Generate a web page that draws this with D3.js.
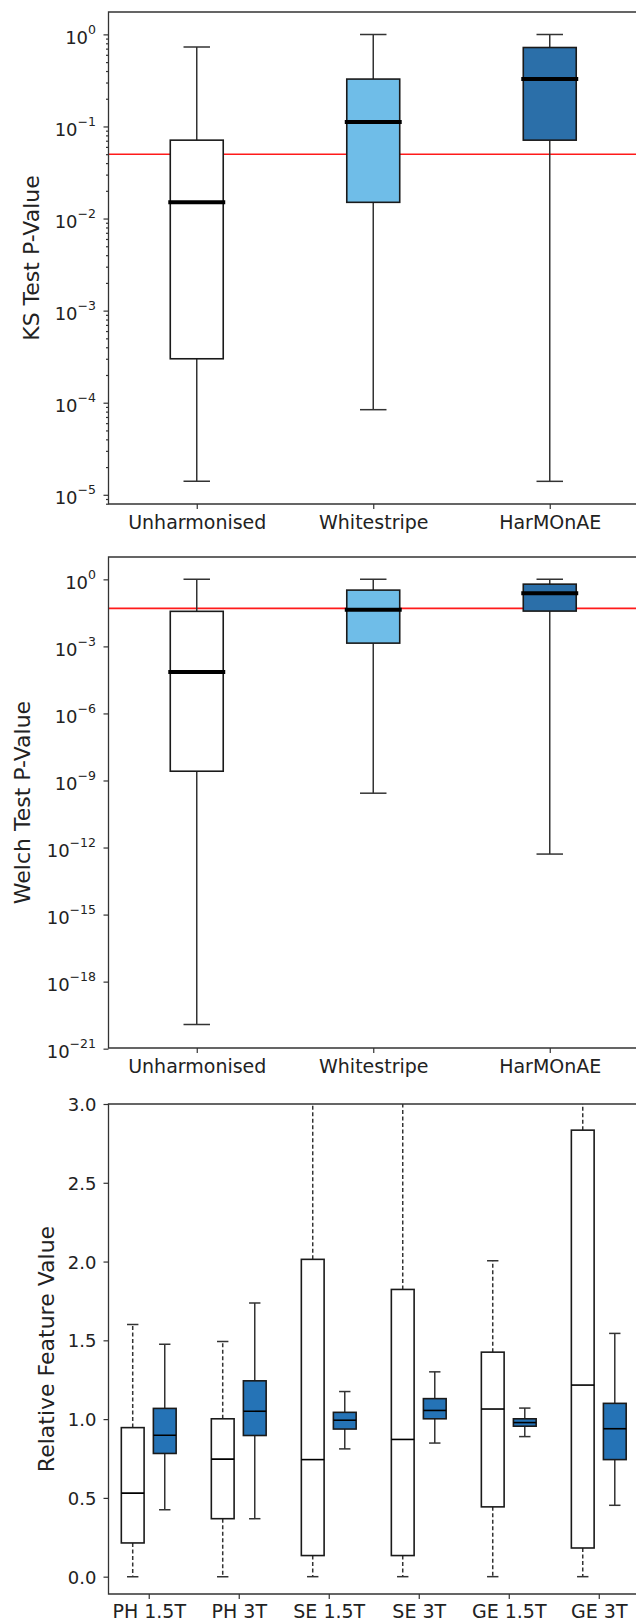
<!DOCTYPE html>
<html>
<head>
<meta charset="utf-8">
<script src="https://cdnjs.cloudflare.com/ajax/libs/d3/7.8.5/d3.min.js"></script>
<style>
    body { margin: 0; background: #fff; }
    svg { display: block; font-family: "DejaVu Sans", sans-serif; }
</style>
</head>
<body>
<div id="chart"></div>
<script>
// box stats are [whisker low, q1, median, q3, whisker high]
const methods = ['Unharmonised', 'Whitestripe', 'HarMOnAE'];

const ksStats = [
    [1.4e-5, 3.0e-4, 1.5e-2, 7.1e-2, 0.73],
    [8.4e-5, 1.5e-2, 0.112, 0.327, 1.0],
    [1.4e-5, 7.1e-2, 0.327, 0.72, 1.0]
];

const welchStats = [
    [1.2e-20, 2.6e-9, 7.2e-5, 0.037, 1.0],
    [2.7e-10, 1.4e-3, 4.4e-2, 0.33, 1.0],
    [5.1e-13, 3.8e-2, 0.24, 0.61, 1.0]
];

const features = ['PH 1.5T', 'PH 3T', 'SE 1.5T', 'SE 3T', 'GE 1.5T', 'GE 3T'];

const unharmStats = [
    [0.0, 0.214, 0.53, 0.946, 1.60],
    [0.0, 0.368, 0.746, 1.002, 1.493],
    [0.0, 0.134, 0.743, 2.014, 3.6],
    [0.0, 0.134, 0.871, 1.823, 3.6],
    [0.0, 0.443, 1.064, 1.425, 2.005],
    [0.0, 0.182, 1.216, 2.834, 3.6]
];

const harmStats = [
    [0.425, 0.782, 0.898, 1.068, 1.475],
    [0.368, 0.896, 1.05, 1.243, 1.737],
    [0.811, 0.937, 0.993, 1.043, 1.175],
    [0.848, 1.002, 1.055, 1.13, 1.30],
    [0.889, 0.955, 0.978, 1.002, 1.07],
    [0.453, 0.743, 0.939, 1.10, 1.544]
];

const ksTicks = [0, -1, -2, -3, -4, -5];
const welchTicks = [0, -3, -6, -9, -12, -15, -18, -21];
const featureTicks = [0, 0.5, 1.0, 1.5, 2.0, 2.5, 3.0];
const pThreshold = 0.05;

const methodColors = ['#ffffff', '#6fbde8', '#2b6fa9'];
const harmColor = '#2573b6';

const size = { width: 636, height: 1622 };
const left = 108.5;
const right = 638;

const svg = d3.select('#chart')
    .append('svg')
    .attr('width', size.width)
    .attr('height', size.height);

svg.append('rect')
    .attr('width', size.width)
    .attr('height', size.height)
    .attr('fill', '#fff');

const drawFrame = (top, bottom) => {
    svg.append('path')
        .attr('d', `M${right},${top}H${left}V${bottom}H${right}`)
        .attr('fill', 'none')
        .attr('stroke', '#333')
        .attr('stroke-width', 1.3);
};

const addClip = (id, top, bottom) => {
    svg.append('clipPath')
        .attr('id', id)
        .append('rect')
        .attr('x', left)
        .attr('y', top)
        .attr('width', right - left + 5)
        .attr('height', bottom - top);
};

const styleTicks = (g) => {
    g.select('.domain').remove();
    g.attr('font-family', null).attr('font-size', null);
    g.selectAll('.tick line').attr('stroke', '#333').attr('stroke-width', 1.2);
};

const yLabel = (text, cx, top, bottom) => {
    svg.append('text')
        .attr('transform', `translate(${cx}, ${(top + bottom) / 2}) rotate(-90)`)
        .attr('text-anchor', 'middle')
        .attr('dy', '0.36em')
        .attr('font-size', 22)
        .attr('fill', '#222')
        .text(text);
};

// y: value scale, cx: center for index, w: box width px
const drawBoxes = (g, stats, cx, y, w, opts) => {
    const box = g.selectAll(null)
        .data(stats)
        .enter()
        .append('g');

    [[3, 4], [1, 0]].forEach(([a, b]) => {
        box.append('line')
            .attr('x1', (d, i) => cx(i))
            .attr('x2', (d, i) => cx(i))
            .attr('y1', d => y(d[a]))
            .attr('y2', d => y(d[b]))
            .attr('stroke', '#333')
            .attr('stroke-width', 1.5)
            .attr('stroke-dasharray', opts.dash || null);

        box.append('line')
            .attr('x1', (d, i) => cx(i) - w / 4)
            .attr('x2', (d, i) => cx(i) + w / 4)
            .attr('y1', d => y(d[b]))
            .attr('y2', d => y(d[b]))
            .attr('stroke', '#333')
            .attr('stroke-width', 1.5);
    });

    box.append('rect')
        .attr('x', (d, i) => cx(i) - w / 2)
        .attr('y', d => y(d[3]))
        .attr('width', w)
        .attr('height', d => y(d[1]) - y(d[3]))
        .attr('fill', (d, i) => opts.fill(i))
        .attr('stroke', '#1a1a1a')
        .attr('stroke-width', 1.6);

    box.append('line')
        .attr('x1', (d, i) => cx(i) - w / 2)
        .attr('x2', (d, i) => cx(i) + w / 2)
        .attr('y1', d => y(d[2]))
        .attr('y2', d => y(d[2]))
        .attr('stroke', '#000')
        .attr('stroke-width', opts.median)
        .attr('stroke-linecap', opts.median > 2 ? 'square' : 'butt');
};

const logPanel = (cfg) => {
    const y = d3.scaleLog()
        .domain(cfg.domain)
        .range([cfg.bottom, cfg.top]);

    const x = d3.scaleLinear()
        .domain([0.5, 3.5])
        .range([left, right]);

    const step = x(2) - x(1);
    const boxW = 0.3 * step;

    // minor ticks
    if (cfg.minor) {
        const minorVals = [];
        for (let k = -6; k <= 0; k++) {
            for (let m = 2; m <= 9; m++) {
                const v = m * Math.pow(10, k);
                if (v >= cfg.domain[0] && v <= cfg.domain[1]) minorVals.push(v);
            }
        }
        svg.append('g')
            .attr('transform', `translate(${left}, 0)`)
            .call(d3.axisLeft(y).tickValues(minorVals).tickSize(2.5).tickFormat(''))
            .call(styleTicks);
    }

    const yAxis = svg.append('g')
        .attr('transform', `translate(${left}, 0)`)
        .call(d3.axisLeft(y).tickValues(cfg.ticks.map(e => Math.pow(10, e))).tickSize(5).tickFormat(''))
        .call(styleTicks);

    yAxis.selectAll('.tick text')
        .attr('x', -12.5)
        .attr('dy', null)
        .attr('y', 9)
        .attr('fill', '#222')
        .attr('font-size', 18)
        .attr('text-anchor', 'end')
        .each(function(d) {
            const e = Math.round(Math.log10(d));
            const t = d3.select(this);
            t.append('tspan').text('10');
            t.append('tspan')
                .attr('dy', -10)
                .attr('font-size', 12.5)
                .text(e < 0 ? `\u2212${-e}` : `${e}`);
        });

    const xAxis = svg.append('g')
        .attr('transform', `translate(0, ${cfg.bottom})`)
        .call(d3.axisBottom(x).tickValues([1, 2, 3]).tickSize(5).tickFormat(d => methods[d - 1]))
        .call(styleTicks);

    xAxis.selectAll('.tick text')
        .attr('y', 25)
        .attr('dy', null)
        .attr('font-size', 19)
        .attr('fill', '#222');

    addClip(cfg.id, cfg.top, cfg.bottom);

    const plot = svg.append('g').attr('clip-path', `url(#${cfg.id})`);

    plot.append('line')
        .attr('x1', left)
        .attr('x2', right)
        .attr('y1', y(pThreshold))
        .attr('y2', y(pThreshold))
        .attr('stroke', '#ff1a1a')
        .attr('stroke-width', 1.6);

    drawBoxes(plot, cfg.stats, i => x(i + 1), y, boxW, {
        fill: i => methodColors[i],
        median: 4
    });

    drawFrame(cfg.top, cfg.bottom);
    yLabel(cfg.label, cfg.labelX, cfg.top, cfg.bottom);
};

logPanel({
    id: 'clip-ks',
    top: 12,
    bottom: 504,
    domain: [Math.pow(10, -5.1), Math.pow(10, 0.243)],
    ticks: ksTicks,
    minor: true,
    stats: ksStats,
    label: 'KS Test P-Value',
    labelX: 31
});

logPanel({
    id: 'clip-welch',
    top: 557,
    bottom: 1048,
    domain: [Math.pow(10, -20.97), Math.pow(10, 1.0)],
    ticks: welchTicks,
    minor: false,
    stats: welchStats,
    label: 'Welch Test P-Value',
    labelX: 22
});

// relative feature panel
const fTop = 1104;
const fBottom = 1594;

const fy = d3.scaleLinear()
    .domain([-0.11, 3.0])
    .range([fBottom, fTop]);

const fx = d3.scaleLinear()
    .domain([-0.447, 5.447])
    .range([left, right + 1]);

const groupStep = fx(1) - fx(0);
const fBoxW = 0.253 * groupStep;
const offset = 0.178;

const fyAxis = svg.append('g')
    .attr('transform', `translate(${left}, 0)`)
    .call(d3.axisLeft(fy).tickValues(featureTicks).tickSize(5).tickFormat(d3.format('.1f')))
    .call(styleTicks);

fyAxis.selectAll('.tick text')
    .attr('x', -12)
    .attr('dy', '0.36em')
    .attr('font-size', 18)
    .attr('fill', '#222');

const fxAxis = svg.append('g')
    .attr('transform', `translate(0, ${fBottom})`)
    .call(d3.axisBottom(fx).tickValues(d3.range(features.length)).tickSize(5).tickFormat(d => features[d]))
    .call(styleTicks);

fxAxis.selectAll('.tick text')
    .attr('y', 24)
    .attr('dy', null)
    .attr('font-size', 19)
    .attr('fill', '#222');

addClip('clip-feat', fTop, fBottom);

const fPlot = svg.append('g').attr('clip-path', 'url(#clip-feat)');

drawBoxes(fPlot, unharmStats, i => fx(i - offset), fy, fBoxW, {
    fill: () => '#fff',
    median: 1.6,
    dash: '4,2.5'
});

drawBoxes(fPlot, harmStats, i => fx(i + offset), fy, fBoxW, {
    fill: () => harmColor,
    median: 1.6
});

drawFrame(fTop, fBottom);
yLabel('Relative Feature Value', 46, fTop, fBottom);
</script>
</body>
</html>
